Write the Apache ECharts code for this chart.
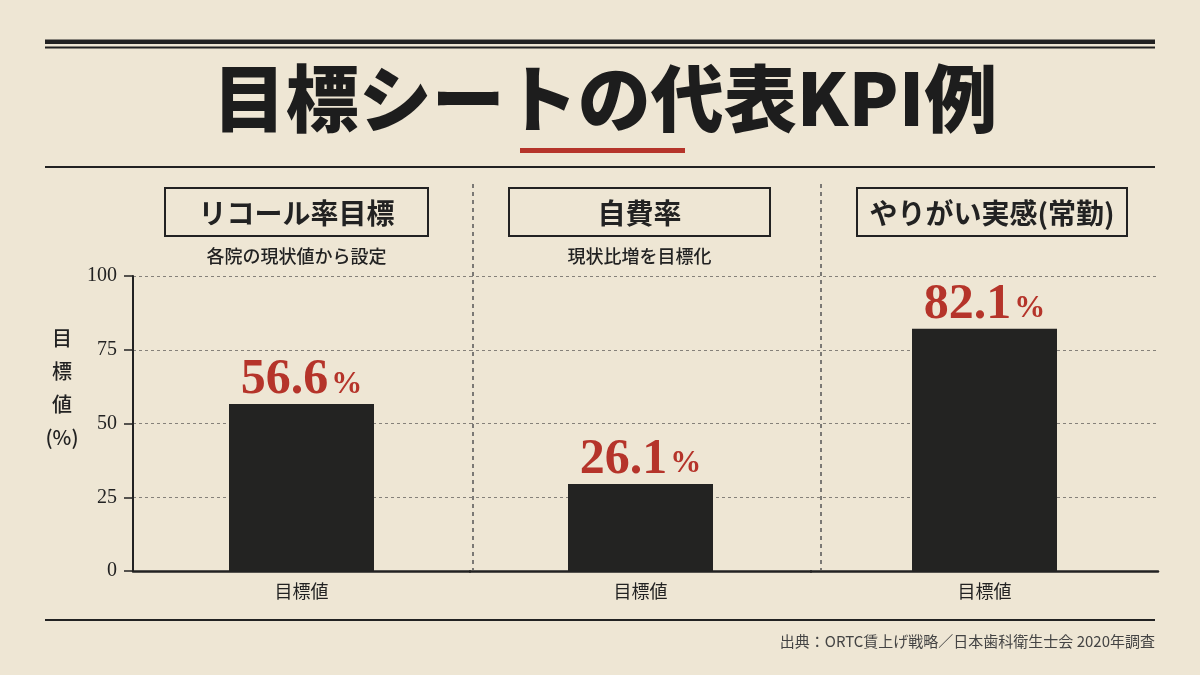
<!DOCTYPE html>
<html>
<head>
<meta charset="utf-8">
<script src="https://cdn.jsdelivr.net/npm/echarts@6/dist/echarts.min.js"></script>
<style>
html,body{margin:0;padding:0;background:#eee6d4;}
#c{width:1200px;height:675px;}
</style>
</head>
<body>
<div id="c"></div>
<script>
// ---- data ----
const chartTitle = '目標シートの代表KPI例';
const panelTitles = ['リコール率目標', '自費率', 'やりがい実感(常勤)'];
const panelNotes = ['各院の現状値から設定', '現状比増を目標化', ''];
const categories = ['目標値'];
const labelValues = [56.6, 26.1, 82.1];      // printed value labels
const barHeights = [56.6, 29.5, 82.1];       // bar heights as drawn
const yTicks = [0, 25, 50, 75, 100];
const yAxisName = '目\n標\n値\n(%)';
const sourceText = '出典：ORTC賃上げ戦略／日本歯科衛生士会 2020年調査';

const INK = '#222222';
const RED = '#b5342a';
const SANS = '"Noto Sans CJK JP", "Noto Sans", sans-serif';
const SERIF = '"Liberation Serif", "DejaVu Serif", serif';

const chart = echarts.init(document.getElementById('c'));

const gridDefs = [
  {left: 133, width: 337},
  {left: 470, width: 341},
  {left: 811, width: 347}
];
const boxDefs = [
  {x: 165, w: 263},
  {x: 509, w: 261},
  {x: 857, w: 270}
];

const grids = gridDefs.map(g => ({left: g.left, width: g.width, top: 276, bottom: 104, containLabel: false}));

const xAxes = gridDefs.map((g, i) => ({
  type: 'category', gridIndex: i, data: categories,
  axisLine: {show: true, lineStyle: {color: INK, width: 2.5}},
  axisTick: {show: false},
  axisLabel: {color: INK, fontFamily: SANS, fontSize: 18, margin: 11}
}));

const yAxes = gridDefs.map((g, i) => ({
  type: 'value', gridIndex: i, min: 0, max: 100, interval: 25,
  axisLine: {show: i === 0, lineStyle: {color: INK, width: 2}},
  axisTick: {show: i === 0, length: 9, lineStyle: {color: INK, width: 1.5}},
  axisLabel: {show: i === 0, color: INK, fontFamily: SERIF, fontSize: 20, margin: 16,
    formatter: v => yTicks.includes(v) ? String(v) : ''},
  splitLine: {show: true, lineStyle: {color: '#85817a', width: 1, type: [3, 3]}}
}));

const series = barHeights.map((v, i) => ({
  type: 'bar', xAxisIndex: i, yAxisIndex: i,
  data: [v], barWidth: 145,
  itemStyle: {color: '#232322'},
  z: 3,
  label: {
    show: true, position: 'top', distance: -1,
    formatter: () => '{n|' + labelValues[i].toFixed(1) + '}{p|%}',
    rich: {
      n: {fontFamily: SERIF, fontWeight: 'bold', fontSize: 50, color: RED, verticalAlign: 'bottom', lineHeight: 50},
      p: {fontFamily: SERIF, fontWeight: 'bold', fontSize: 31, color: RED, verticalAlign: 'bottom', lineHeight: 50, padding: [0, 0, 5, 3]}
    }
  }
}));

const graphics = [
  // top double rule
  {type: 'rect', shape: {x: 45, y: 39.5, width: 1110, height: 4.5}, style: {fill: INK}},
  {type: 'rect', shape: {x: 45, y: 46.5, width: 1110, height: 2}, style: {fill: INK}},
  // title
  {type: 'text', x: 605, y: 98, style: {text: chartTitle, fontFamily: SANS, fontWeight: 900, fontSize: 73,
    fill: '#1d1d1d', align: 'center', verticalAlign: 'middle'}},
  // red accent
  {type: 'rect', shape: {x: 520, y: 148, width: 165, height: 5}, style: {fill: RED}},
  // rule under title
  {type: 'rect', shape: {x: 45, y: 166, width: 1110, height: 2}, style: {fill: INK}},
  // vertical dashed separators
  {type: 'line', shape: {x1: 473, y1: 184, x2: 473, y2: 570}, style: {stroke: '#555', lineWidth: 1.5, lineDash: [4, 4]}},
  {type: 'line', shape: {x1: 821, y1: 184, x2: 821, y2: 570}, style: {stroke: '#555', lineWidth: 1.5, lineDash: [4, 4]}},
  // y axis name
  {type: 'text', x: 62, y: 388, style: {text: yAxisName, fontFamily: SANS, fontWeight: 500, fontSize: 20,
    lineHeight: 33, fill: INK, align: 'center', verticalAlign: 'middle'}},
  // bottom rule
  {type: 'rect', shape: {x: 45, y: 619, width: 1110, height: 2}, style: {fill: INK}},
  // source
  {type: 'text', x: 1155, y: 641, style: {text: sourceText, fontFamily: SANS, fontSize: 15,
    fill: '#444', align: 'right', verticalAlign: 'middle'}}
];

boxDefs.forEach((b, i) => {
  graphics.push({type: 'rect', shape: {x: b.x, y: 188, width: b.w, height: 48},
    style: {fill: 'none', stroke: INK, lineWidth: 2}});
  graphics.push({type: 'text', x: b.x + b.w / 2, y: 213, style: {text: panelTitles[i], fontFamily: SANS,
    fontWeight: 'bold', fontSize: 28, fill: INK, align: 'center', verticalAlign: 'middle'}});
  if (panelNotes[i]) {
    graphics.push({type: 'text', x: b.x + b.w / 2, y: 256, style: {text: panelNotes[i], fontFamily: SANS,
      fontWeight: 500, fontSize: 18, fill: INK, align: 'center', verticalAlign: 'middle'}});
  }
});

chart.setOption({
  backgroundColor: '#eee6d4',
  animation: false,
  grid: grids,
  xAxis: xAxes,
  yAxis: yAxes,
  series: series,
  graphic: graphics
});
</script>
</body>
</html>
